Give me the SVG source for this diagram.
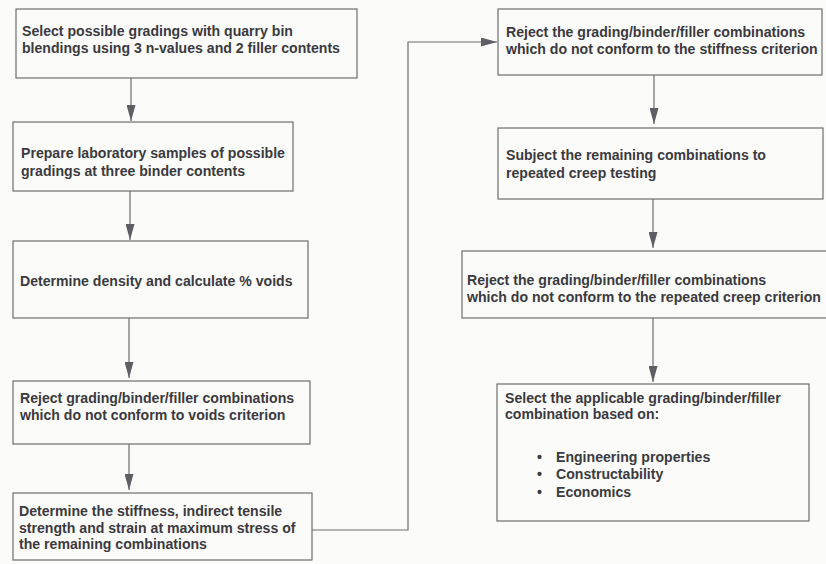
<svg xmlns="http://www.w3.org/2000/svg" width="826" height="564" viewBox="0 0 826 564">
<defs>
<marker id="ah" viewBox="0 0 16 9" refX="16" refY="4.5" markerWidth="16" markerHeight="9" markerUnits="userSpaceOnUse" orient="auto" preserveAspectRatio="none">
<path d="M0,0 L16,4.5 L0,9 z" fill="#5e5e64"/>
</marker>
<style>
.box{fill:none;stroke:#6e6e6e;stroke-width:1.2}
.t{font-family:"Liberation Sans",Arial,sans-serif;font-weight:bold;font-size:14.1px;fill:#3a3a40}
.c{fill:none;stroke:#6e6e6e;stroke-width:1.2;marker-end:url(#ah)}
</style>
</defs>
<rect width="826" height="564" fill="#fbfbf9"/>
<g id="connectors">
<line class="c" x1="131" y1="78" x2="131" y2="121"/>
<line class="c" x1="130" y1="191" x2="130" y2="240"/>
<line class="c" x1="129" y1="318" x2="129" y2="378"/>
<line class="c" x1="129" y1="444" x2="129" y2="490"/>
<line class="c" x1="654" y1="75" x2="654" y2="124"/>
<line class="c" x1="653" y1="199" x2="653" y2="248"/>
<line class="c" x1="653" y1="318" x2="653" y2="382"/>
<path class="c" d="M312,530 H408 V42 H497"/>
</g>
<g id="n1"><rect class="box" x="16" y="9" width="341" height="69"/>
<text class="t" x="22" y="36">Select possible gradings with quarry bin</text>
<text class="t" x="22" y="53">blendings using 3 n-values and 2 filler contents</text></g>
<g id="n2"><rect class="box" x="13" y="122" width="280" height="69"/>
<text class="t" x="21" y="158">Prepare laboratory samples of possible</text>
<text class="t" x="21" y="176">gradings at three binder contents</text></g>
<g id="n3"><rect class="box" x="13" y="241" width="295" height="77"/>
<text class="t" x="20" y="286">Determine density and calculate % voids</text></g>
<g id="n4"><rect class="box" x="13" y="381" width="297" height="63"/>
<text class="t" x="20" y="403">Reject grading/binder/filler combinations</text>
<text class="t" x="20" y="420">which do not conform to voids criterion</text></g>
<g id="n5"><rect class="box" x="13" y="493" width="299" height="67"/>
<text class="t" x="19" y="516">Determine the stiffness, indirect tensile</text>
<text class="t" x="19" y="533">strength and strain at maximum stress of</text>
<text class="t" x="19" y="549">the remaining combinations</text></g>
<g id="n6"><rect class="box" x="498" y="9" width="324" height="66"/>
<text class="t" x="506" y="37">Reject the grading/binder/filler combinations</text>
<text class="t" x="506" y="54">which do not conform to the stiffness criterion</text></g>
<g id="n7"><rect class="box" x="498" y="128" width="325" height="71"/>
<text class="t" x="506" y="160">Subject the remaining combinations to</text>
<text class="t" x="506" y="178">repeated creep testing</text></g>
<g id="n8"><rect class="box" x="462" y="251" width="368" height="67"/>
<text class="t" x="467" y="285">Reject the grading/binder/filler combinations</text>
<text class="t" x="467" y="302">which do not conform to the repeated creep criterion</text></g>
<g id="n9"><rect class="box" x="497" y="384" width="312" height="137"/>
<text class="t" x="505" y="403">Select the applicable grading/binder/filler</text>
<text class="t" x="505" y="419">combination based on:</text>
<text class="t" x="537" y="462">•</text><text class="t" x="556" y="462">Engineering properties</text>
<text class="t" x="537" y="479">•</text><text class="t" x="556" y="479">Constructability</text>
<text class="t" x="537" y="497">•</text><text class="t" x="556" y="497">Economics</text></g>
</svg>
